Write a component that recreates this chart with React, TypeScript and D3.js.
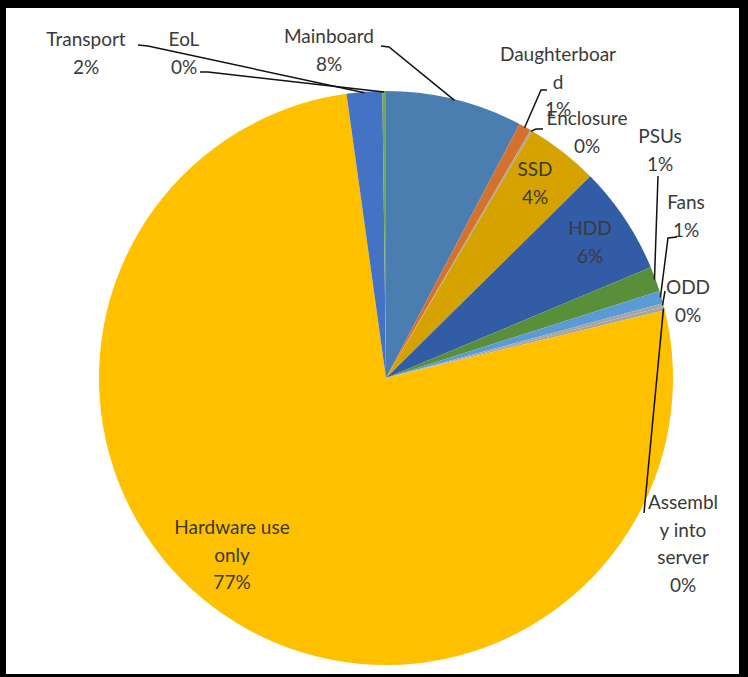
import * as d3 from "d3"

const categories = [
  "Mainboard",
  "Daughterboard",
  "Enclosure",
  "SSD",
  "HDD",
  "PSUs",
  "Fans",
  "ODD",
  "Assembly into server",
  "Hardware use only",
  "Transport",
  "EoL",
]
const values = [7.7, 0.7, 0.1, 4.1, 6.1, 1.4, 0.7, 0.2, 0.2, 76.6, 2.0, 0.2]
const colors = [
  "#4a7eb0",
  "#d4712c",
  "#a5a5a5",
  "#d6a200",
  "#325ca5",
  "#5a8f3a",
  "#5b9bd5",
  "#a5a5a5",
  "#a5a5a5",
  "#ffc000",
  "#4472c4",
  "#70ad47",
]
// label text lines (Excel wraps long names)
const labelLines = [
  ["Mainboard"],
  ["Daughterboar", "d"],
  ["Enclosure"],
  ["SSD"],
  ["HDD"],
  ["PSUs"],
  ["Fans"],
  ["ODD"],
  ["Assembl", "y into", "server"],
  ["Hardware use", "only"],
  ["Transport"],
  ["EoL"],
]

// layout: label centre x, first baseline y, leader start points
const labelLayout: { x: number; y: number; leader?: [number, number][] }[] = [
  { x: 329, y: 43, leader: [[381, 46], [389, 47]] },
  { x: 558, y: 61, leader: [[547, 90], [541, 90]] },
  { x: 587, y: 125, leader: [[543, 129], [536, 129]] },
  { x: 535, y: 176 },
  { x: 590, y: 235 },
  { x: 660, y: 143, leader: [[658, 176]] },
  { x: 686, y: 209, leader: [[677, 237], [668, 238]] },
  { x: 688, y: 294, leader: [[665, 291]] },
  { x: 683, y: 509, leader: [[644, 513]] },
  { x: 232, y: 534 },
  { x: 86, y: 46, leader: [[138, 45], [148, 46]] },
  { x: 184, y: 46, leader: [[200, 72], [208, 72]] },
]

const W = 748
const H = 677
const cx = 386
const cy = 378
const radius = 287
const lineH = 27.5

export default function App() {
  const data = categories.map((name, i) => ({ name, value: values[i], i }))
  const total = d3.sum(values)
  const pct = d3.format(".0%")

  const pieLayout = d3
    .pie<any>()
    .value((d) => d.value)
    .sort(null)
  const arcs = pieLayout(data)
  const arcGen = d3.arc<any>().innerRadius(0).outerRadius(radius)
  const edge = d3.arc<any>().innerRadius(radius - 1).outerRadius(radius - 1)

  return (
    <svg
      width={W}
      height={H}
      style={{ position: "absolute", left: 0, top: 0 }}
      fontFamily="Lato, 'Open Sans', sans-serif"
    >
      <rect x={0} y={0} width={W} height={H} fill="#000" />
      <rect x={6} y={8} width={733} height={666} fill="#fff" />
      <g transform={`translate(${cx},${cy})`}>
        {arcs.map((d, i) => (
          <path key={i} d={arcGen(d) || undefined} fill={colors[i]} />
        ))}
      </g>
      {arcs.map((d, i) => {
        const lay = labelLayout[i]
        if (!lay.leader) return null
        const [ex, ey] = edge.centroid(d)
        const pts = [...lay.leader, [cx + ex, cy + ey]]
        return (
          <polyline
            key={"l" + i}
            points={pts.map((p) => p.join(",")).join(" ")}
            fill="none"
            stroke="#111"
            strokeWidth={1.5}
          />
        )
      })}
      {arcs.map((d, i) => {
        const lay = labelLayout[i]
        const lines = [...labelLines[i], pct(d.data.value / total)]
        return (
          <text
            key={"t" + i}
            x={lay.x}
            y={lay.y}
            textAnchor="middle"
            fontSize={19}
            fill="#3a3a3a"
          >
            {lines.map((t, k) => (
              <tspan key={k} x={lay.x} y={lay.y + k * lineH}>
                {t}
              </tspan>
            ))}
          </text>
        )
      })}
    </svg>
  )
}
